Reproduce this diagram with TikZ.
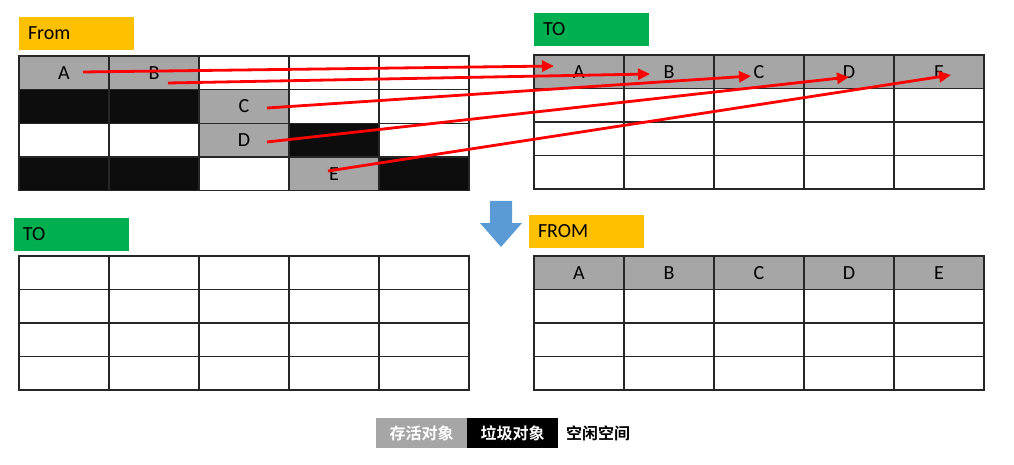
\documentclass[tikz,border=0pt]{standalone}
\usepackage{fontspec}
\setmainfont{Carlito}
\newfontfamily\cjk{Noto Sans CJK SC}[BoldFont={Noto Sans CJK SC Bold}]
\usetikzlibrary{arrows.meta}
\definecolor{goldlbl}{HTML}{FFC000}
\definecolor{greenlbl}{HTML}{00B050}
\definecolor{livegray}{HTML}{A6A6A6}
\definecolor{deadblack}{HTML}{0D0D0D}
\definecolor{arrowblue}{HTML}{5B9BD5}
\definecolor{gridline}{HTML}{262626}
\begin{document}
\begin{tikzpicture}[x=1pt,y=-1pt,
  cell/.style={draw=gridline,line width=1.3pt,minimum width=90pt,minimum height=33.6pt,inner sep=0pt,outer sep=0pt,anchor=north west,font=\fontsize{20}{20}\selectfont},
  free/.style={cell,fill=white},
  live/.style={cell,fill=livegray},
  dead/.style={cell,fill=deadblack},
  lbl/.style={minimum width=115pt,minimum height=33pt,inner ysep=0pt,inner xsep=9pt,outer sep=0pt,anchor=north west,text width=97pt,align=left,font=\fontsize{20}{20}\selectfont},
  mv/.style={red,line width=2.8pt,-{Triangle[length=12pt,width=11pt]}},
  leg/.style={minimum width=91pt,minimum height=30pt,inner sep=0pt,outer sep=0pt,anchor=north west,font=\cjk\bfseries\fontsize{16}{16}\selectfont}
]
\useasboundingbox (0,0) rectangle (1014,465);

% labels
\node[lbl,fill=goldlbl] (lFrom) at (19,17) {From};
\node[lbl,fill=greenlbl] (lTo) at (534,13) {TO};
\node[lbl,fill=greenlbl] (lTo2) at (14,218) {TO};
\node[lbl,fill=goldlbl] (lFrom2) at (529,215) {FROM};

% left-top grid (From space before GC)
\foreach \r/\c/\s/\t in {0/0/live/A,0/1/live/B,0/2/free/,0/3/free/,0/4/free/,
  1/0/dead/,1/1/dead/,1/2/live/C,1/3/free/,1/4/free/,
  2/0/free/,2/1/free/,2/2/live/D,2/3/dead/,2/4/free/,
  3/0/dead/,3/1/dead/,3/2/free/,3/3/live/E,3/4/dead/}
  \node[\s] (F\r\c) at ({19+90*\c},{56+33.75*\r}) {\t};

% right-top grid (To space)
\foreach \c/\t in {0/A,1/B,2/C,3/D,4/E}
  \node[live] (T0\c) at ({534+90*\c},55) {\t};
\foreach \r in {1,2,3}
  \foreach \c in {0,...,4}
    \node[free] (T\r\c) at ({534+90*\c},{55+33.5*\r}) {};

% bottom-left grid (new To space)
\foreach \r in {0,...,3}
  \foreach \c in {0,...,4}
    \node[free] (N\r\c) at ({19+90*\c},{256+33.5*\r}) {};

% bottom-right grid (new From space)
\foreach \c/\t in {0/A,1/B,2/C,3/D,4/E}
  \node[live] (M0\c) at ({534+90*\c},256) {\t};
\foreach \r in {1,2,3}
  \foreach \c in {0,...,4}
    \node[free] (M\r\c) at ({534+90*\c},{256+33.5*\r}) {};

% copy arrows
\coordinate (sA) at (83,72);   \coordinate (tA) at (554,66);
\coordinate (sB) at (168,83);  \coordinate (tB) at (650,74);
\coordinate (sC) at (267,108); \coordinate (tC) at (751,76);
\coordinate (sD) at (267,142); \coordinate (tD) at (849,77);
\coordinate (sE) at (328,171); \coordinate (tE) at (951,75);
\draw[mv] (sA) -- (tA);
\draw[mv] (sB) -- (tB);
\draw[mv] (sC) -- (tC);
\draw[mv] (sD) -- (tD);
\draw[mv] (sE) -- (tE);

% swap arrow
\fill[arrowblue] (490,201) -- (512,201) -- (512,223) -- (522,223) -- (501,247) -- (480,223) -- (490,223) -- cycle;

% legend
\node[leg,fill=livegray,text=white] (gLive) at (376,418) {存活对象};
\node[leg,fill=black,text=white] (gDead) at (467,418) {垃圾对象};
\node[leg,anchor=west,minimum width=0pt,inner sep=0pt] (gFree) at (566,433) {空闲空间};
\end{tikzpicture}
\end{document}
